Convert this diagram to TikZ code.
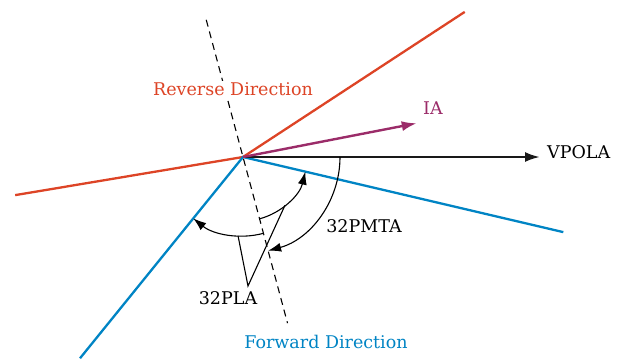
\documentclass[tikz,border=0pt]{standalone}
\usepackage{fontspec}
\setmainfont{DejaVu Serif}
\usepackage{xcolor}
\usepackage{tikz}
\usetikzlibrary{arrows.meta, positioning, calc}

\definecolor{revred}{RGB}{221,68,38}
\definecolor{fwdblue}{RGB}{0,132,196}
\definecolor{iapurple}{RGB}{155,44,105}

\begin{document}
\begin{tikzpicture}[
  x=1pt, y=1pt,
  lbl/.style={font=\fontsize{17.5}{20}\selectfont, inner sep=1pt},
  bound/.style={line width=2.3pt},
  phasor/.style={-{Latex[length=15pt, width=10pt]}, line width=2.4pt},
  angarc/.style={-{Latex[length=13pt, width=9pt]}, line width=1.1pt},
  leader/.style={line width=1.1pt}
]
  \useasboundingbox (-243,-203) rectangle (380,157);

  \coordinate (O) at (0,0);

  %--- Boundaries ---
  \draw[bound, revred]  (189.5:231) -- (O) -- (33.2:265);
  \draw[bound, fwdblue] (-129:259) -- (O) -- (-13.2:329);

  % Torque line
  \coordinate (dtop) at (105:142);
  \coordinate (dbot) at (-75:172);
  \draw[line width=1.1pt, dash pattern=on 7pt off 5pt] (dtop) -- (O) -- (dbot);

  %--- Phasors ---
  \draw[phasor, black!90]  (O) -- (0:297)   coordinate (vtip);
  \draw[phasor, iapurple]  (O) -- (11:177)  coordinate (itip);
  \node[lbl, anchor=west] (vpola) at ($(vtip)+(6,5)$) {VPOLA};
  \node[lbl, text=iapurple] (ia) at (190,49) {IA};

  %--- Angles ---
  \draw[angarc] (0:97) arc[start angle=0, end angle=-75, radius=97];
  \draw[angarc] (-75:64) arc[start angle=-75, end angle=-13.2, radius=64];
  \draw[angarc] (-75:79) arc[start angle=-75, end angle=-129, radius=79];

  \node[lbl] (pmta) at (121,-69) {32PMTA};
  \node[lbl] (pla)  at (-15,-141) {32PLA};

  \coordinate (apex) at (5,-129);
  \draw[leader] (-93.6:79) -- (apex) -- (-49:64);

  %--- Regions ---
  \node[lbl, text=revred, fill=white] (rev) at (-10,68) {Reverse Direction};
  \node[lbl, text=fwdblue] (fwd) at (83,-185) {Forward Direction};

\end{tikzpicture}
\end{document}
